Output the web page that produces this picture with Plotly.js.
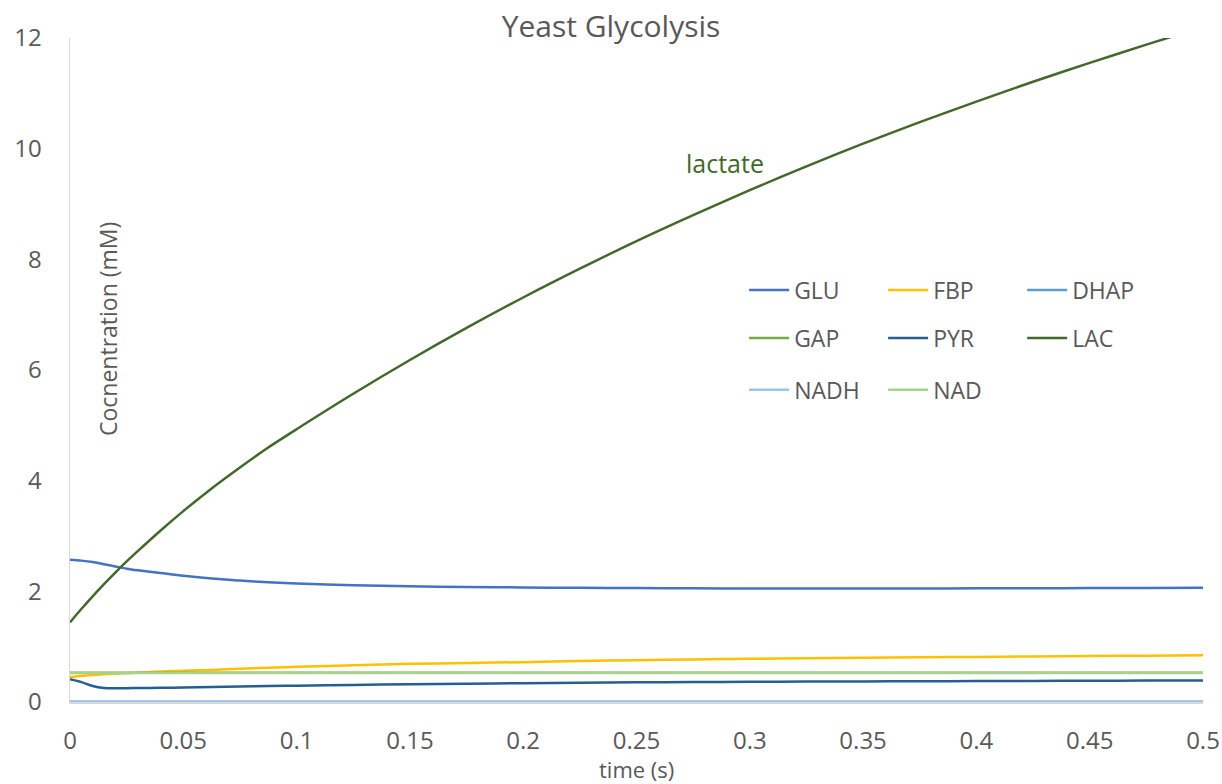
<!DOCTYPE html>
<html>
<head>
<meta charset="utf-8">
<script src="https://cdn.plot.ly/plotly-3.0.1.min.js"></script>
<style>html,body{margin:0;padding:0;background:#fff;}#chart{width:1222px;height:784px;}</style>
</head>
<body>
<div id="chart"></div>
<script>
// time points (s)
const time = [0, 0.005, 0.01, 0.015, 0.02, 0.025, 0.03, 0.04, 0.05, 0.0625, 0.075, 0.0875, 0.1,
              0.125, 0.15, 0.175, 0.2, 0.225, 0.25, 0.275, 0.3, 0.325, 0.35, 0.375, 0.4, 0.425, 0.45, 0.475, 0.5];
// concentrations (mM)
const GLU  = [2.57, 2.555, 2.53, 2.49, 2.45, 2.41, 2.38, 2.33, 2.28, 2.23, 2.195, 2.165, 2.14,
              2.11, 2.09, 2.078, 2.07, 2.063, 2.058, 2.054, 2.052, 2.051, 2.051, 2.052, 2.054, 2.056, 2.059, 2.062, 2.065];
const FBP  = [0.45, 0.475, 0.49, 0.50, 0.51, 0.52, 0.53, 0.55, 0.565, 0.58, 0.60, 0.62, 0.635,
              0.665, 0.69, 0.705, 0.72, 0.74, 0.755, 0.77, 0.78, 0.79, 0.80, 0.808, 0.815, 0.823, 0.83, 0.838, 0.845];
const DHAP = [0.005, 0.005, 0.005, 0.005, 0.005, 0.005, 0.005, 0.005, 0.005, 0.005, 0.005, 0.005, 0.005,
              0.005, 0.005, 0.005, 0.005, 0.005, 0.005, 0.005, 0.005, 0.005, 0.005, 0.005, 0.005, 0.005, 0.005, 0.005, 0.005];
const GAP  = [0.53, 0.53, 0.53, 0.53, 0.53, 0.53, 0.53, 0.53, 0.53, 0.53, 0.53, 0.53, 0.53,
              0.53, 0.53, 0.53, 0.53, 0.53, 0.53, 0.53, 0.53, 0.53, 0.53, 0.53, 0.53, 0.53, 0.53, 0.53, 0.53];
const PYR  = [0.41, 0.36, 0.29, 0.255, 0.25, 0.25, 0.252, 0.257, 0.262, 0.27, 0.278, 0.287, 0.295,
              0.308, 0.32, 0.33, 0.34, 0.348, 0.355, 0.36, 0.365, 0.369, 0.372, 0.375, 0.378, 0.381, 0.384, 0.387, 0.39];
const LAC  = [1.44, 1.68, 1.91, 2.13, 2.34, 2.54, 2.73, 3.10, 3.45, 3.86, 4.24, 4.60, 4.93,
              5.57, 6.18, 6.76, 7.31, 7.83, 8.33, 8.80, 9.25, 9.68, 10.09, 10.48, 10.85, 11.21, 11.55, 11.88, 12.20];
const NADH = [0, 0, 0, 0, 0, 0, 0, 0, 0, 0, 0, 0, 0,
              0, 0, 0, 0, 0, 0, 0, 0, 0, 0, 0, 0, 0, 0, 0, 0];
const NAD  = [0.525, 0.525, 0.525, 0.525, 0.525, 0.525, 0.525, 0.525, 0.525, 0.525, 0.525, 0.525, 0.525,
              0.525, 0.525, 0.525, 0.525, 0.525, 0.525, 0.525, 0.525, 0.525, 0.525, 0.525, 0.525, 0.525, 0.525, 0.525, 0.525];

const seriesNames = ['GLU', 'FBP', 'DHAP', 'GAP', 'PYR', 'LAC', 'NADH', 'NAD'];
const seriesData = [GLU, FBP, DHAP, GAP, PYR, LAC, NADH, NAD];
const colors = ['#4472C4', '#FFC000', '#5B9BD5', '#70AD47', '#255E91', '#43682B', '#9DC3E6', '#A9D18E'];
const legendIds = ['legend', 'legend', 'legend', 'legend2', 'legend2', 'legend2', 'legend3', 'legend3'];

const FONT = 'Open Sans, Noto Sans, sans-serif';
const GREY = '#595959';

const traces = seriesNames.map((n, i) => ({
  x: time, y: seriesData[i], name: n, type: 'scatter', mode: 'lines',
  line: {color: colors[i], width: 2.5, shape: 'spline', smoothing: 0.8},
  legend: legendIds[i], cliponaxis: true, hoverinfo: 'x+y+name'
}));

function leg(y) {
  return {orientation: 'h', x: 0.595, xanchor: 'left', y: y, yanchor: 'middle',
    entrywidth: 84, entrywidthmode: 'pixels', itemwidth: 40,
    font: {family: FONT, size: 23, color: GREY}, bgcolor: 'rgba(0,0,0,0)'};
}

const layout = {
  width: 1222, height: 784,
  margin: {l: 70, r: 19, t: 38, b: 82, autoexpand: false},
  paper_bgcolor: '#ffffff', plot_bgcolor: '#ffffff',
  font: {family: FONT, color: GREY, size: 20},
  title: {text: 'Yeast Glycolysis', font: {family: FONT, size: 30, color: GREY}, x: 0.5, xanchor: 'center', y: 0.966, yanchor: 'middle'},
  xaxis: {
    range: [0, 0.5], tickvals: [0, 0.05, 0.1, 0.15, 0.2, 0.25, 0.3, 0.35, 0.4, 0.45, 0.5],
    ticktext: ['0', '0.05', '0.1', '0.15', '0.2', '0.25', '0.3', '0.35', '0.4', '0.45', '0.5'],
    showgrid: false, zeroline: false, showline: true, linecolor: '#D9D9D9', linewidth: 1.5,
    ticks: '', ticklabelstandoff: 17, tickfont: {family: FONT, size: 24, color: GREY}
  },
  yaxis: {
    range: [0, 12], tickvals: [0, 2, 4, 6, 8, 10, 12],
    showgrid: false, zeroline: false, showline: true, linecolor: '#D9D9D9', linewidth: 1.5,
    ticks: '', ticklabelstandoff: 22, tickfont: {family: FONT, size: 24, color: GREY}
  },
  showlegend: true,
  legend: leg(0.6205),
  legend2: leg(0.548),
  legend3: leg(0.47),
  annotations: [
    {text: 'time (s)', xref: 'paper', yref: 'paper', x: 0.5, y: -0.1005, showarrow: false,
     font: {family: FONT, size: 22, color: GREY}, xanchor: 'center', yanchor: 'middle'},
    {text: 'Cocnentration (mM)', xref: 'paper', yref: 'paper', x: 0.0335, y: 0.5617, textangle: -90,
     showarrow: false, font: {family: FONT, size: 23, color: GREY}, xanchor: 'center', yanchor: 'middle'},
    {text: 'lactate', xref: 'x', yref: 'y', x: 0.289, y: 9.74, showarrow: false,
     font: {family: FONT, size: 25, color: '#43682B'}, xanchor: 'center', yanchor: 'middle'}
  ]
};

Plotly.newPlot('chart', traces, layout, {displayModeBar: false, staticPlot: true});
</script>
</body>
</html>
